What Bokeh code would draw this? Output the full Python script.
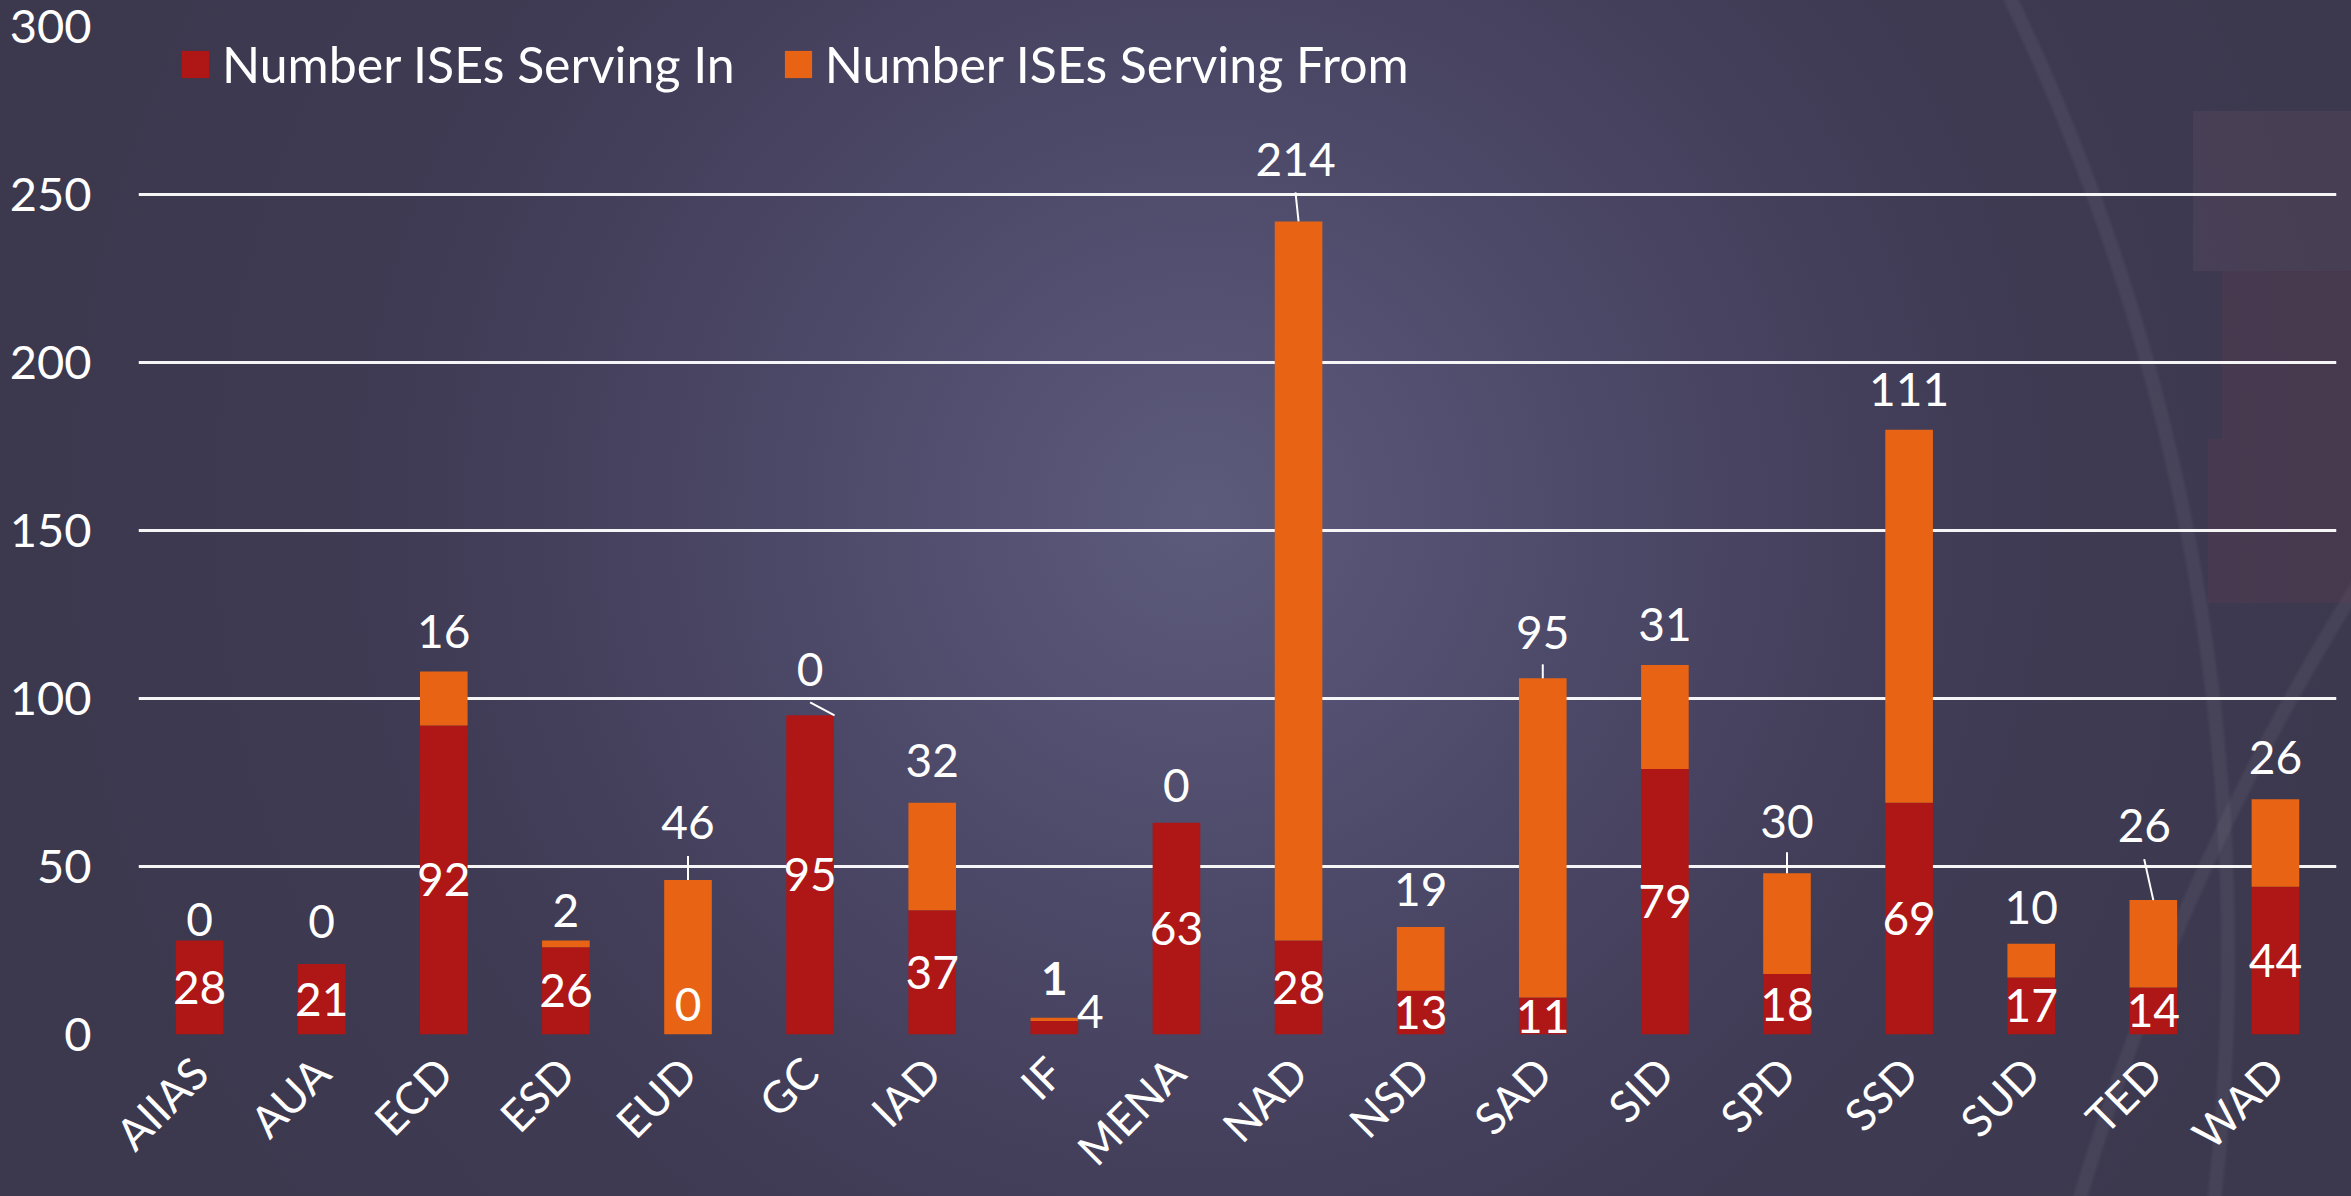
from math import pi
from bokeh.plotting import figure
from bokeh.models import ColumnDataSource, FactorRange, Range1d, FixedTicker, Legend
from bokeh.core.properties import value
from bokeh.embed import file_html
from bokeh.resources import INLINE

# ---------------- data ----------------
categories = ["AIIAS", "AUA", "ECD", "ESD", "EUD", "GC", "IAD", "IF", "MENA",
              "NAD", "NSD", "SAD", "SID", "SPD", "SSD", "SUD", "TED", "WAD"]
serving_in = [28, 21, 92, 26, 0, 95, 37, 4, 63, 28, 13, 11, 79, 18, 69, 17, 14, 44]
serving_from = [0, 0, 16, 2, 46, 0, 32, 1, 0, 214, 19, 95, 31, 30, 111, 10, 26, 26]
series_names = ["Number ISEs Serving In", "Number ISEs Serving From"]
y_ticks = [0, 50, 100, 150, 200, 250, 300]

# ---------------- layout / style ----------------
W, H = 2351, 1196
B_LEFT, B_RIGHT, B_TOP, B_BOTTOM = 138, 15, 26, 162
FRAME_H = H - B_TOP - B_BOTTOM
Y_MAX = 300
PX = FRAME_H / Y_MAX          # screen pixels per data unit

RED = "#AF1616"
ORANGE = "#E86414"
WHITE = "#FFFFFF"
FONT = "Lato"

# label placement tweaks (screen pixels), one per category
from_dy = [21, 42, 40, 30, 57, 46, 42, 39, 37, 62, 37, 46, 40, 52, 40, 36, 75, 42]
from_dx = [0, 0, 0, 0, 0, 0, 0, 0, 0, -3, 0, 0, 0, 0, 0, 0, -9, 0]
from_style = ["normal"] * 7 + ["bold"] + ["normal"] * 10
in_dx = [0, 0, 0, 0, 0, 0, 0, 36, 0, 0, 0, 0, 0, 0, 0, 0, 0, 0]
in_dy = [0, 0, 0, 0, -30, 0, 0, -16, 0, 0, 0, 0, 0, 0, 0, 0, 0, 0]
# leader lines: category -> (offset at bar end, offset at label end, length px)
leaders = {"EUD": (0.0, 0.0, 24), "GC": (0.2, 0.0, 13), "NAD": (0.0, -0.025, 29),
           "SAD": (0.0, 0.0, 14), "SPD": (0.0, 0.0, 21), "TED": (0.0, -0.075, 41)}

totals = [a + b for a, b in zip(serving_in, serving_from)]

src = ColumnDataSource(dict(
    cat=categories,
    serving_in=serving_in,
    serving_from=serving_from,
    total=totals,
    in_mid=[v / 2 for v in serving_in],
    in_text=[str(v) for v in serving_in],
    from_text=[str(v) for v in serving_from],
    from_dy=[-d for d in from_dy],
    from_dx=from_dx,
    from_style=from_style,
    in_dx=in_dx,
    in_dy=in_dy,
))

lead_cats = [c for c in categories if c in leaders]
lead_src = ColumnDataSource(dict(
    x0=[(c, leaders[c][0]) for c in lead_cats],
    x1=[(c, leaders[c][1]) for c in lead_cats],
    y0=[totals[categories.index(c)] for c in lead_cats],
    y1=[totals[categories.index(c)] + leaders[c][2] / PX for c in lead_cats],
))

p = figure(
    x_range=FactorRange(*categories),
    y_range=Range1d(0, Y_MAX),
    width=W, height=H,
    output_backend="svg",
    toolbar_location=None,
    min_border_left=B_LEFT, min_border_right=B_RIGHT,
    min_border_top=B_TOP, min_border_bottom=B_BOTTOM,
)

# transparent canvas, background painted by CSS on the figure element
p.background_fill_alpha = 0
p.border_fill_alpha = 0
p.outline_line_color = None
BASE = "#3c384e"
p.styles = {
    "background": ", ".join([
        "linear-gradient(rgba(150,110,130,0.12), rgba(150,110,130,0.12)) 2193px 111px / 158px 160px no-repeat",
        "linear-gradient(rgba(130,60,75,0.15), rgba(130,60,75,0.15)) 2222px 271px / 129px 168px no-repeat",
        "linear-gradient(rgba(130,60,75,0.15), rgba(130,60,75,0.15)) 2208px 439px / 143px 164px no-repeat",
        "radial-gradient(circle 2216px at 22px 954px, rgba(255,255,255,0) 2197px, rgba(255,255,255,0.05) 2201px, rgba(255,255,255,0.05) 2211px, rgba(255,255,255,0) 2215px)",
        "radial-gradient(circle 2536px at 4498px 1925px, rgba(255,255,255,0) 2516px, rgba(255,255,255,0.05) 2520px, rgba(255,255,255,0.05) 2530px, rgba(255,255,255,0) 2534px)",
        "radial-gradient(circle 1150px at 1200px 515px, #5d5b7c 0%, #535071 20%, #484462 45%, #3f3b54 70%, " + BASE + " 100%)",
        BASE,
    ]),
}

# grid
p.xgrid.grid_line_color = None
p.ygrid.grid_line_color = WHITE
p.ygrid.grid_line_width = 3
p.ygrid.grid_line_alpha = 0.95

# axes
for ax in (p.xaxis[0], p.yaxis[0]):
    ax.axis_line_color = None
    ax.major_tick_line_color = None
    ax.minor_tick_line_color = None
    ax.major_tick_out = 0
    ax.major_tick_in = 0
    ax.minor_tick_out = 0
    ax.major_label_text_color = WHITE
    ax.major_label_text_font = FONT

p.yaxis.ticker = FixedTicker(ticks=y_ticks)
p.yaxis.major_label_text_font_size = "47px"
p.yaxis.major_label_text_line_height = 1.0
p.yaxis.major_label_standoff = 47

p.xaxis.major_label_orientation = pi / 4
p.xaxis.major_label_text_font_size = "44px"
p.xaxis.major_label_text_line_height = 0.6
p.xaxis.major_label_standoff = 30

# bars
rs = p.vbar_stack(["serving_in", "serving_from"], x="cat", width=0.39,
                  color=[RED, ORANGE], line_color=None, source=src)

# leader lines
p.segment(x0="x0", y0="y0", x1="x1", y1="y1", source=lead_src,
          line_color=WHITE, line_width=2)

# data labels
p.text(x="cat", y="in_mid", text="in_text", source=src,
       x_offset="in_dx", y_offset="in_dy",
       text_color=WHITE, text_font=value(FONT), text_font_size="46px",
       text_align="center", text_baseline="middle")
p.text(x="cat", y="total", text="from_text", source=src,
       x_offset="from_dx", y_offset="from_dy", text_font_style="from_style",
       text_color=WHITE, text_font=value(FONT), text_font_size="46px",
       text_align="center", text_baseline="middle")

# legend
legend = Legend(
    items=[(series_names[0], [rs[0]]), (series_names[1], [rs[1]])],
    orientation="horizontal",
    location=(40, FRAME_H - 68),
    glyph_width=34, glyph_height=34,
    label_standoff=10, spacing=46,
    padding=0, margin=0,
    background_fill_alpha=0, border_line_color=None,
    label_text_color=WHITE, label_text_font=FONT,
    label_text_font_size="50px",
)
p.add_layout(legend)

open("out.html", "w").write(file_html(p, INLINE))
